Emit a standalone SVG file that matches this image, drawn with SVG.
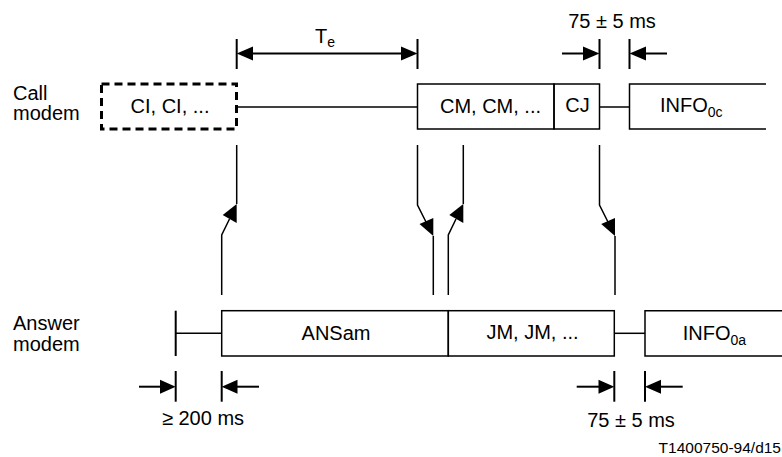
<svg xmlns="http://www.w3.org/2000/svg" width="782" height="457" viewBox="0 0 782 457">
<style>
text{font-family:"Liberation Sans",Arial,sans-serif;fill:#000}
.lbl{font-size:20px}
.box{font-size:20px;text-anchor:middle}
.sm{font-size:15.5px}
.ln{stroke:#000;stroke-width:1.5;fill:none}
.dim{stroke:#000;stroke-width:2;fill:none}
.ah{fill:#000;stroke:none}
</style>
<rect width="782" height="457" fill="#fff"/>
<g id="labels">
<text class="lbl" x="13" y="100">Call</text>
<text class="lbl" x="13" y="120">modem</text>
<text class="lbl" x="13" y="330">Answer</text>
<text class="lbl" x="13" y="351">modem</text>
</g>
<g id="ci">
<rect x="101.5" y="84" width="135" height="45" fill="none" stroke="#000" stroke-width="3" stroke-dasharray="8,5"/>
<text class="box" x="170" y="113">CI, CI, ...</text>
</g>
<g id="cm">
<rect x="417.5" y="84" width="136.5" height="45" class="ln"/>
<text class="box" x="490.5" y="113">CM, CM, ...</text>
</g>
<g id="cj">
<rect x="554" y="84" width="45.5" height="45" class="ln"/>
<text class="box" x="577.5" y="112">CJ</text>
</g>
<g id="info0c">
<path class="ln" d="M766,84 H629.5 V129 H766"/>
<text class="lbl" x="660" y="112">INFO<tspan font-size="14" dy="5">0c</tspan></text>
</g>
<g id="ansam">
<rect x="221.7" y="310.7" width="226.6" height="45.3" class="ln"/>
<text class="box" x="336" y="340">ANSam</text>
</g>
<g id="jm">
<rect x="448.3" y="310.7" width="166" height="45.3" class="ln"/>
<text class="box" x="532.5" y="339">JM, JM, ...</text>
</g>
<g id="info0a">
<path class="ln" d="M782,310.7 H645 V356 H782"/>
<text class="lbl" x="682.7" y="340">INFO<tspan font-size="14" dy="5">0a</tspan></text>
</g>
<g id="connectors">
<line class="ln" x1="236.7" y1="107" x2="417.5" y2="107"/>
<line class="ln" x1="599.5" y1="107" x2="629.5" y2="107"/>
<line class="dim" x1="175.7" y1="310.7" x2="175.7" y2="356"/>
<line class="ln" x1="175.7" y1="333.3" x2="221.7" y2="333.3"/>
<line class="ln" x1="614.3" y1="333.3" x2="645" y2="333.3"/>
<path class="ln" d="M221.7,295 V235 L229.5,219 M236.7,204 V145"/>
<polygon class="ah" points="236.7,204 236.7,223 222.7,215"/>
<path class="ln" d="M417.5,145 V205 L426,222 M433.3,236 V295"/>
<polygon class="ah" points="433.3,218 433.3,236 419.5,224"/>
<path class="ln" d="M448.3,295 V235 L456,219 M463.3,204 V145"/>
<polygon class="ah" points="463.3,204 463.3,223 449.3,215"/>
<path class="ln" d="M599.5,145 V205 L608,222 M615,236 V295"/>
<polygon class="ah" points="615,218 615,236 601.2,224"/>
</g>
<g id="dim-te">
<line class="dim" x1="236.7" y1="39" x2="236.7" y2="69"/>
<line class="dim" x1="417.5" y1="39" x2="417.5" y2="69"/>
<line class="dim" x1="245" y1="53.5" x2="409" y2="53.5"/>
<polygon class="ah" points="236.7,53.5 253,46.5 253,60.5"/>
<polygon class="ah" points="417.5,53.5 401,46.5 401,60.5"/>
<text class="lbl" x="315" y="43">T<tspan font-size="14" dy="4">e</tspan></text>
</g>
<g id="dim-top75">
<line class="dim" x1="599.5" y1="39" x2="599.5" y2="69"/>
<line class="dim" x1="629.5" y1="39" x2="629.5" y2="69"/>
<line class="dim" x1="562" y1="53.5" x2="590" y2="53.5"/>
<polygon class="ah" points="599.5,53.5 583,46.5 583,60.5"/>
<line class="dim" x1="639" y1="53.5" x2="667" y2="53.5"/>
<polygon class="ah" points="629.5,53.5 646,46.5 646,60.5"/>
<text class="box" x="612" y="28">75 ± 5 ms</text>
</g>
<g id="dim-200">
<line class="dim" x1="175.7" y1="371" x2="175.7" y2="401.7"/>
<line class="dim" x1="221.7" y1="371" x2="221.7" y2="401.7"/>
<line class="dim" x1="139" y1="386.7" x2="166" y2="386.7"/>
<polygon class="ah" points="175.7,386.7 160,379.7 160,393.7"/>
<line class="dim" x1="231" y1="386.7" x2="259" y2="386.7"/>
<polygon class="ah" points="221.7,386.7 237.5,379.7 237.5,393.7"/>
<text class="box" x="203" y="425">≥ 200 ms</text>
</g>
<g id="dim-bot75">
<line class="dim" x1="614.3" y1="371" x2="614.3" y2="401.7"/>
<line class="dim" x1="645" y1="371" x2="645" y2="401.7"/>
<line class="dim" x1="576.7" y1="386.7" x2="605" y2="386.7"/>
<polygon class="ah" points="614.3,386.7 598.5,379.7 598.5,393.7"/>
<line class="dim" x1="654" y1="386.7" x2="682.7" y2="386.7"/>
<polygon class="ah" points="645,386.7 661,379.7 661,393.7"/>
<text class="box" x="631" y="427">75 ± 5 ms</text>
</g>
<text class="sm" x="781" y="453" text-anchor="end">T1400750-94/d15</text>
</svg>
